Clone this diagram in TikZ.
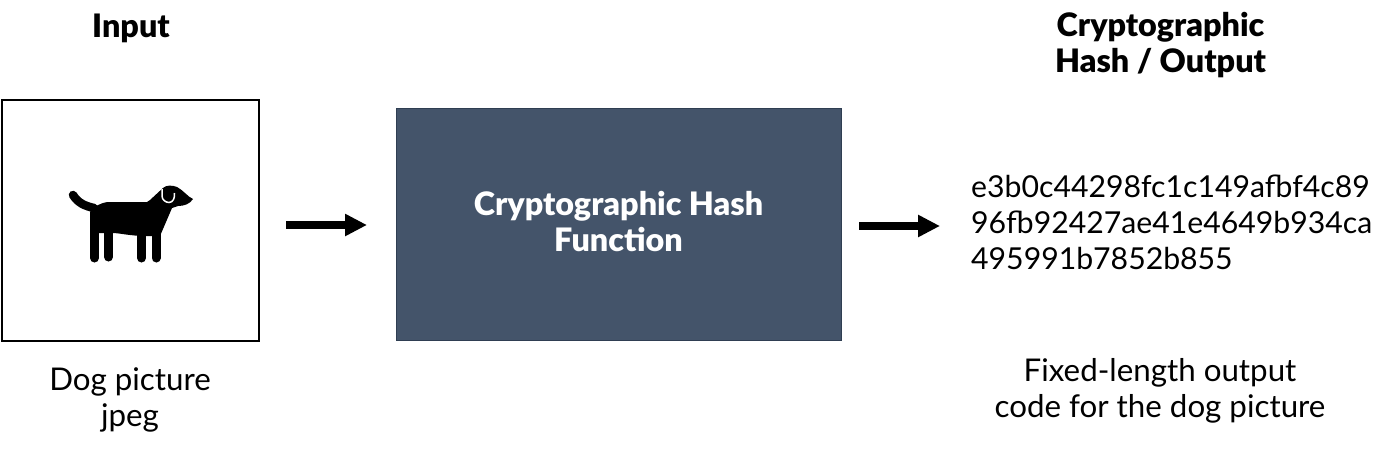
\documentclass[tikz,border=0pt]{standalone}
\usepackage{fontspec}
\setmainfont{Lato}
\newfontfamily\heavyfont{Lato Black}
\usetikzlibrary{arrows.meta}
\tikzset{
  lbl/.style={align=center,font=\fontsize{31.3}{36}\selectfont,text=black,inner sep=0pt},
  codetxt/.style={align=left,font=\fontsize{30.2}{36}\selectfont,text=black,inner sep=0pt},
  hd/.style={align=center,font=\fontsize{32.3}{35.5}\selectfont\heavyfont,text=black,inner sep=0pt},
  flow/.style={line width=7.5pt,-{Triangle[length=22pt,width=21pt]},black},
  leg/.style={line width=9pt,line cap=round,black}
}
\begin{document}
\begin{tikzpicture}[x=1pt,y=-1pt]
\useasboundingbox (0,0) rectangle (1400,452);
\fill[white] (0,0) rectangle (1400,452);
\node[hd] (inh) at (131,28) {Input};
\node[hd] (outh) at (1160.5,45) {Cryptographic\\Hash / Output};
\node[draw=black,line width=2pt,fill=white,minimum width=257pt,minimum height=241pt,inner sep=0pt] (img) at (130.5,220) {};
\node[lbl] (cap1) at (130,400) {Dog picture\\jpeg};
\node[fill={rgb,255:red,68;green,84;blue,106},draw={rgb,255:red,47;green,62;blue,82},line width=0.7pt,minimum width=445pt,minimum height=232pt,inner sep=0pt] (fn) at (619,224.5) {};
\node[align=center,text=white,inner sep=0pt,font=\fontsize{32.3}{36}\selectfont\heavyfont] (fnt) at (618.5,221.5) {Cryptographic Hash\\Function};
\node[codetxt,anchor=west] (code) at (971,222) {e3b0c44298fc1c149afbf4c89\\96fb92427ae41e4649b934ca\\495991b7852b855};
\node[lbl] (cap2) at (1160,390.5) {Fixed-length output\\code for the dog picture};
\coordinate (a1) at (286,225);
\coordinate (a2) at (367,225);
\coordinate (b1) at (859,226);
\coordinate (b2) at (940,226);
\draw[flow] (a1) -- (a2);
\draw[flow] (b1) -- (b2);
% dog
\fill[black] (90,212) .. controls (95,206) and (100,203) .. (108,202) -- (147,202)
  -- (150,200) -- (163,188) .. controls (166,185) and (172,185) .. (177,187)
  .. controls (183,190) and (188,197) .. (193,199) .. controls (190,204) and (184,206) .. (178,206)
  -- (172,208) -- (160,236) -- (146,236) .. controls (130,236) and (120,233) .. (112,233) -- (90,233) -- cycle;
\draw[line width=8.5pt,line cap=round,black] (73,195) .. controls (78,203) and (85,206) .. (94,208);
\draw[leg] (94.5,225) -- (94.5,258);
\draw[leg] (108.5,230) -- (108.5,257);
\draw[leg] (141.5,230) -- (141.5,258);
\draw[leg] (156,230) -- (156,258);
\draw[white,line width=1.5pt] (162,189) -- (162,196) .. controls (162,200) and (166,202.5) .. (169,202.5) .. controls (173,202.5) and (175,198) .. (174.5,193);
\end{tikzpicture}
\end{document}
